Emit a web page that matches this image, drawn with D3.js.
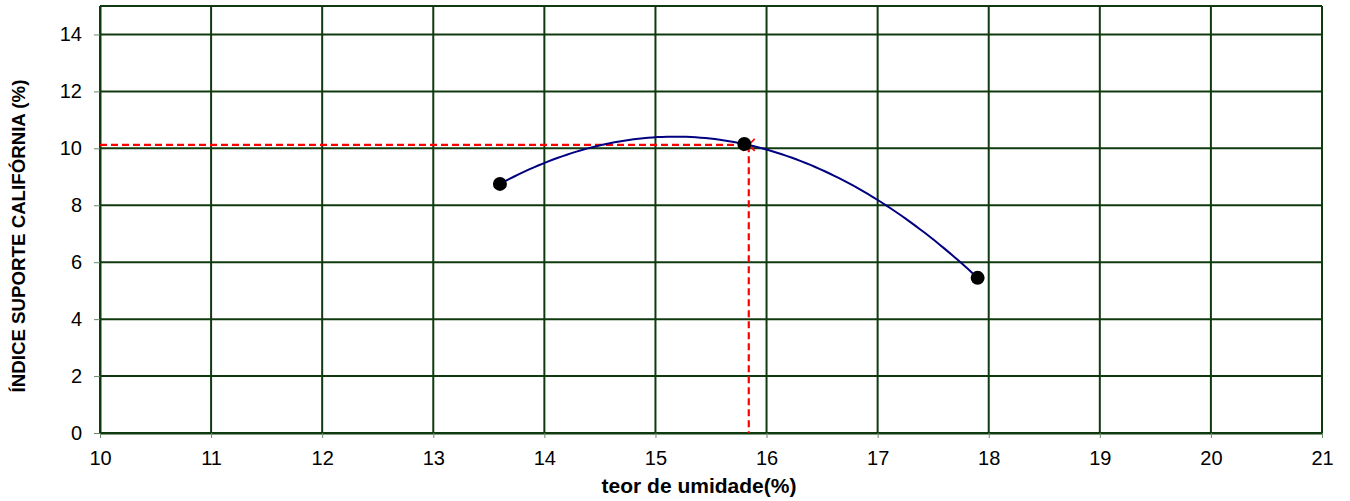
<!DOCTYPE html>
<html><head><meta charset="utf-8">
<script src="https://cdn.jsdelivr.net/npm/d3@7"></script>
<style>body{margin:0;background:#fff;} svg{display:block;font-family:"Liberation Sans",Arial,sans-serif;}</style>
</head><body>
<svg id="c" width="1350" height="501"></svg>
<script>
const moisture = [13.6, 15.8, 17.9];
const cbr = [8.75, 10.15, 5.45];
const refX = [10, 15.84, 15.84];
const refY = [10.12, 10.12, 0];
const xTicks = [10,11,12,13,14,15,16,17,18,19,20,21];
const yTicks = [0,2,4,6,8,10,12,14];
const xTitle = "teor de umidade(%)";
const yTitle = "ÍNDICE SUPORTE CALIFÓRNIA (%)";

const svg = d3.select("#c");
const L=100, R=1322, T=6, B=433;
const x = d3.scaleLinear().domain([10,21]).range([L,R]);
const y = d3.scaleLinear().domain([0,15]).range([B,T]);
const gridCol = "#0f3a0f";

// grid
svg.append("g").selectAll("line").data(xTicks).join("line")
  .attr("x1",d=>x(d)).attr("x2",d=>x(d)).attr("y1",T).attr("y2",B)
  .attr("stroke",gridCol).attr("stroke-width",2);
svg.append("g").selectAll("line").data(yTicks.concat([15])).join("line")
  .attr("x1",L).attr("x2",R).attr("y1",d=>y(d)).attr("y2",d=>y(d))
  .attr("stroke",gridCol).attr("stroke-width",2);

// axes
const xa = svg.append("g").attr("transform",`translate(0,${B})`)
  .call(d3.axisBottom(x).tickValues(xTicks).tickSize(5).tickSizeOuter(0).tickPadding(13));
const ya = svg.append("g").attr("transform",`translate(${L},0)`)
  .call(d3.axisLeft(y).tickValues(yTicks).tickSize(6).tickSizeOuter(0).tickPadding(12));
[xa,ya].forEach(a=>{
  a.select(".domain").attr("stroke",gridCol).attr("stroke-width",2);
  a.selectAll(".tick line").attr("stroke","#6a8a6a").attr("stroke-width",1);
  a.selectAll("text").attr("font-size",20).attr("fill","#000").attr("font-family","Liberation Sans, Arial, sans-serif");
});

// reference dashed lines
const refPts = refX.map((v,i)=>[v,refY[i]]);
svg.append("path").datum(refPts)
  .attr("d", d3.line().x(d=>x(d[0])).y(d=>y(d[1])))
  .attr("fill","none").attr("stroke","#ff0000").attr("stroke-width",2.2)
  .attr("stroke-dasharray","7,4");
// marker at corner
const cx = x(refX[1]), cy = y(refY[1]);
const mk = svg.append("g").attr("stroke","#ff0000").attr("stroke-width",1.6);
[[-6,-6,6,6],[-6,6,6,-6]].forEach(s=>mk.append("line")
  .attr("x1",cx+s[0]).attr("y1",cy+s[1]).attr("x2",cx+s[2]).attr("y2",cy+s[3]));

// polynomial trendline (order 2) fitted to the data
const [x0,x1,x2] = moisture, [y0,y1,y2] = cbr;
const f01=(y1-y0)/(x1-x0), f12=(y2-y1)/(x2-x1), f012=(f12-f01)/(x2-x0);
const poly = t => y0 + f01*(t-x0) + f012*(t-x0)*(t-x1);
const xs = d3.range(0,101).map(i=>x0+(x2-x0)*i/100);
svg.append("path").datum(xs)
  .attr("d", d3.line().x(d=>x(d)).y(d=>y(poly(d))))
  .attr("fill","none").attr("stroke","#000080").attr("stroke-width",2);

// points
svg.append("g").selectAll("circle").data(moisture).join("circle")
  .attr("cx",d=>x(d)).attr("cy",(d,i)=>y(cbr[i])).attr("r",7).attr("fill","#000");

// titles
svg.append("text").attr("x",699).attr("y",493).attr("text-anchor","middle")
  .attr("font-size",21).attr("font-weight","bold").text(xTitle);
svg.append("text").attr("transform",`translate(25,236) rotate(-90)`).attr("text-anchor","middle")
  .attr("font-size",18.7).attr("font-weight","bold").text(yTitle);
</script>
</body></html>
